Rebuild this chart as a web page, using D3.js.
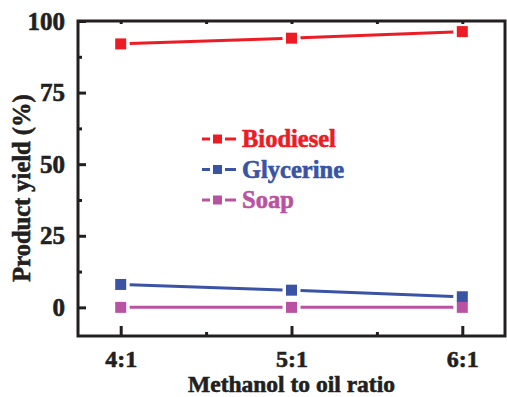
<!DOCTYPE html>
<html>
<head>
<meta charset="utf-8">
<script src="https://cdn.jsdelivr.net/npm/d3@7"></script>
<style>
  body { margin: 0; background: #fff; }
  text { font-family: "Liberation Serif", "Times New Roman", serif; font-weight: bold; stroke-width: 0.6px; }
</style>
</head>
<body>
<div id="chart"></div>
<script>
const ratios = [4, 5, 6];
const ratioLabels = ["4:1", "5:1", "6:1"];
const biodiesel = [92, 94, 96.3];
const glycerine = [8, 6, 3.7];
const soap = [0, 0, 0];
const yTicks = [0, 25, 50, 75, 100];
const yMinor = [12.5, 37.5, 62.5, 87.5];
const xMinor = [4.5, 5.5];

const series = [
    { name: "Biodiesel", values: biodiesel, color: "#ED1C24" },
    { name: "Glycerine", values: glycerine, color: "#3A53A4" },
    { name: "Soap", values: soap, color: "#BA52A2" }
];

const W = 507, H = 397;
const margin = { top: 21, right: 2, bottom: 61, left: 78 },
    width = W - margin.left - margin.right,
    height = H - margin.top - margin.bottom;
const axisColor = "#231F20";

const svg = d3.select("#chart").append("svg")
    .attr("width", W)
    .attr("height", H)
    .append("g")
    .attr("transform", `translate(${margin.left},${margin.top})`);

const x = d3.scaleLinear().domain([3.75, 6.25]).range([0, width]);
const y = d3.scaleLinear().domain([-10, 100]).range([height, 0]);

// axes (ticks point inward)
const yAxis = d3.axisLeft(y).tickValues(yTicks).tickSizeInner(-8).tickSizeOuter(0).tickPadding(13);
const yAxisMinor = d3.axisLeft(y).tickValues(yMinor).tickSizeInner(-4).tickSizeOuter(0).tickFormat("");
const xAxis = d3.axisBottom(x).tickValues(ratios).tickFormat((d, i) => ratioLabels[i])
    .tickSizeInner(-10).tickSizeOuter(0).tickPadding(14);
const xAxisMinor = d3.axisBottom(x).tickValues(xMinor).tickSizeInner(-4).tickSizeOuter(0).tickFormat("");
const xTop = d3.axisTop(x).tickValues(ratios.concat(xMinor)).tickSizeInner(-3).tickSizeOuter(0).tickFormat("");

function styleAxis(g, size) {
    g.select(".domain").remove();
    g.selectAll("line").attr("stroke", axisColor).attr("stroke-width", 3);
    g.selectAll("text").attr("fill", axisColor).attr("stroke", axisColor)
        .style("font-size", size + "px")
        .style("font-family", "'Liberation Serif', serif")
        .style("font-weight", "bold");
}

svg.append("g").call(yAxis).call(styleAxis, 25);
svg.append("g").call(yAxisMinor).call(styleAxis, 25);
svg.append("g").attr("transform", `translate(0,${height})`).call(xAxis).call(styleAxis, 24);
svg.append("g").attr("transform", `translate(0,${height})`).call(xAxisMinor).call(styleAxis, 24);
svg.append("g").call(xTop).call(styleAxis, 24);

// frame
svg.append("rect")
    .attr("x", 0).attr("y", 0)
    .attr("width", width).attr("height", height)
    .attr("fill", "none")
    .attr("stroke", axisColor)
    .attr("stroke-width", 3);

// lines: segments with gaps around markers
const gap = 9;
series.forEach(s => {
    const pts = ratios.map((r, i) => [x(r), y(s.values[i])]);
    for (let i = 0; i < pts.length - 1; i++) {
        const [x1, y1] = pts[i], [x2, y2] = pts[i + 1];
        const len = Math.hypot(x2 - x1, y2 - y1);
        const ux = (x2 - x1) / len, uy = (y2 - y1) / len;
        svg.append("line")
            .attr("x1", x1 + ux * gap).attr("y1", y1 + uy * gap)
            .attr("x2", x2 - ux * gap).attr("y2", y2 - uy * gap)
            .attr("stroke", s.color)
            .attr("stroke-width", 3);
    }
});

// markers
series.forEach(s => {
    svg.selectAll(null)
        .data(s.values)
        .enter()
        .append("rect")
        .attr("x", (d, i) => x(ratios[i]) - 5.5)
        .attr("y", d => y(d) - 5.5)
        .attr("width", 11)
        .attr("height", 11)
        .attr("fill", s.color);
});

// legend
const legend = svg.append("g").attr("transform", `translate(${202 - margin.left},${139 - margin.top})`);
series.forEach((s, i) => {
    const g = legend.append("g").attr("transform", `translate(0,${i * 30.5})`);
    g.append("line").attr("x1", 0).attr("x2", 8).attr("y1", 0).attr("y2", 0)
        .attr("stroke", s.color).attr("stroke-width", 3);
    g.append("line").attr("x1", 23).attr("x2", 34).attr("y1", 0).attr("y2", 0)
        .attr("stroke", s.color).attr("stroke-width", 3);
    g.append("rect").attr("x", 11).attr("y", -4.5).attr("width", 9).attr("height", 9)
        .attr("fill", s.color);
    g.append("text")
        .attr("x", 40)
        .attr("y", 8)
        .attr("fill", s.color)
        .attr("stroke", s.color)
        .style("font-size", "24.5px")
        .text(s.name);
});

// axis titles
svg.append("text")
    .attr("x", width / 2)
    .attr("y", height + 56)
    .attr("text-anchor", "middle")
    .attr("fill", axisColor)
    .attr("stroke", axisColor)
    .style("font-size", "23.5px")
    .text("Methanol to oil ratio");

svg.append("text")
    .attr("transform", "rotate(-90)")
    .attr("x", -(188 - margin.top))
    .attr("y", 30 - margin.left)
    .attr("text-anchor", "middle")
    .attr("fill", axisColor)
    .attr("stroke", axisColor)
    .style("font-size", "24.5px")
    .text("Product yield (%)");
</script>
</body>
</html>
